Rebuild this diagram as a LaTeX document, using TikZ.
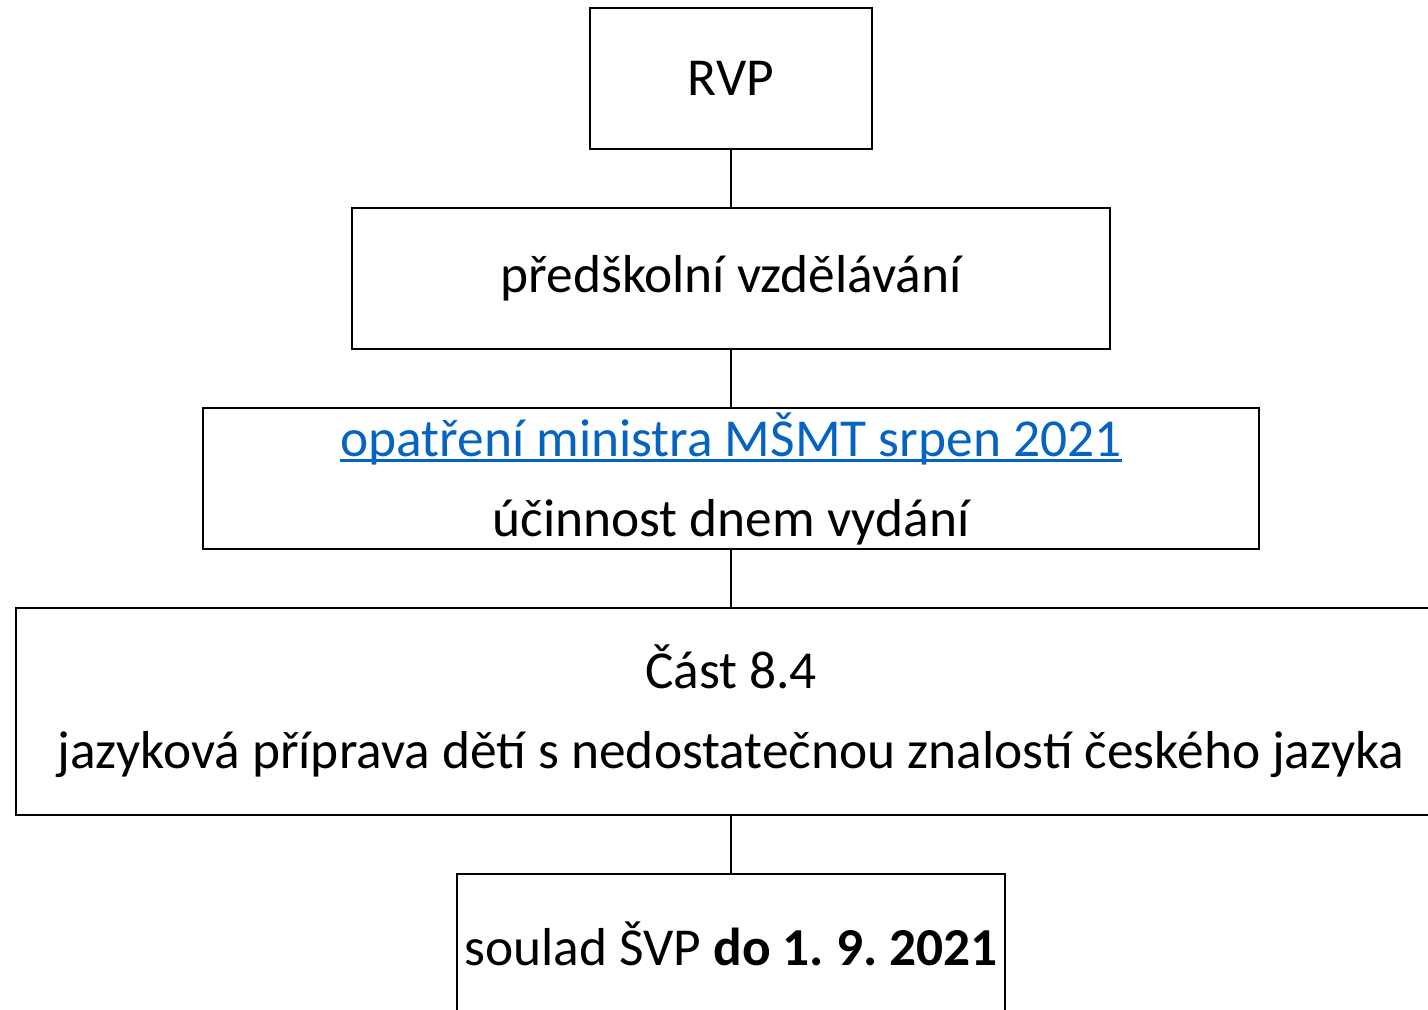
\documentclass[tikz,border=0pt]{standalone}
\usepackage{fontspec}
\setmainfont{Carlito}
\usepackage{xcolor}
\definecolor{linkblue}{HTML}{0563C1}
\newsavebox\linkbox
\newcommand\linkline[1]{%
    \sbox\linkbox{#1}%
    \rlap{\rule[-3pt]{\wd\linkbox}{1.3pt}}\usebox\linkbox}
\tikzset{
    stage/.style={draw, line width=1pt, inner sep=0pt, minimum height=70.5pt,
        align=center, font=\fontsize{26.7}{40}\selectfont\frenchspacing},
    joint/.style={line width=1pt},
}

\begin{document}
\begin{tikzpicture}[x=0.5pt,y=-0.5pt]
    \useasboundingbox (0,0) rectangle (1428,1010);
    % chain of boxes
    \node[stage, minimum width=141pt] (rvp) at (731,78.5) {RVP};
    \node[stage, minimum width=379pt] (pred) at (731,278.5) {předškolní vzdělávání};
    \node[stage, minimum width=528pt] (opat) at (731,478.5)
        {\textcolor{linkblue}{\linkline{opatření ministra MŠMT srpen 2021}}\\ účinnost dnem vydání};
    \node[stage, minimum width=715pt, minimum height=103.5pt] (cast) at (731,711.5)
        {Část 8.4\\ jazyková příprava dětí s nedostatečnou znalostí českého jazyka};
    \node[stage, minimum width=274pt, minimum height=70pt] (svp) at (731,944)
        {soulad ŠVP \textbf{do 1. 9. 2021}};
    % connectors
    \draw[joint] (rvp) -- (pred);
    \draw[joint] (pred) -- (opat);
    \draw[joint] (opat) -- (cast);
    \draw[joint] (cast) -- (svp);
\end{tikzpicture}
\end{document}
